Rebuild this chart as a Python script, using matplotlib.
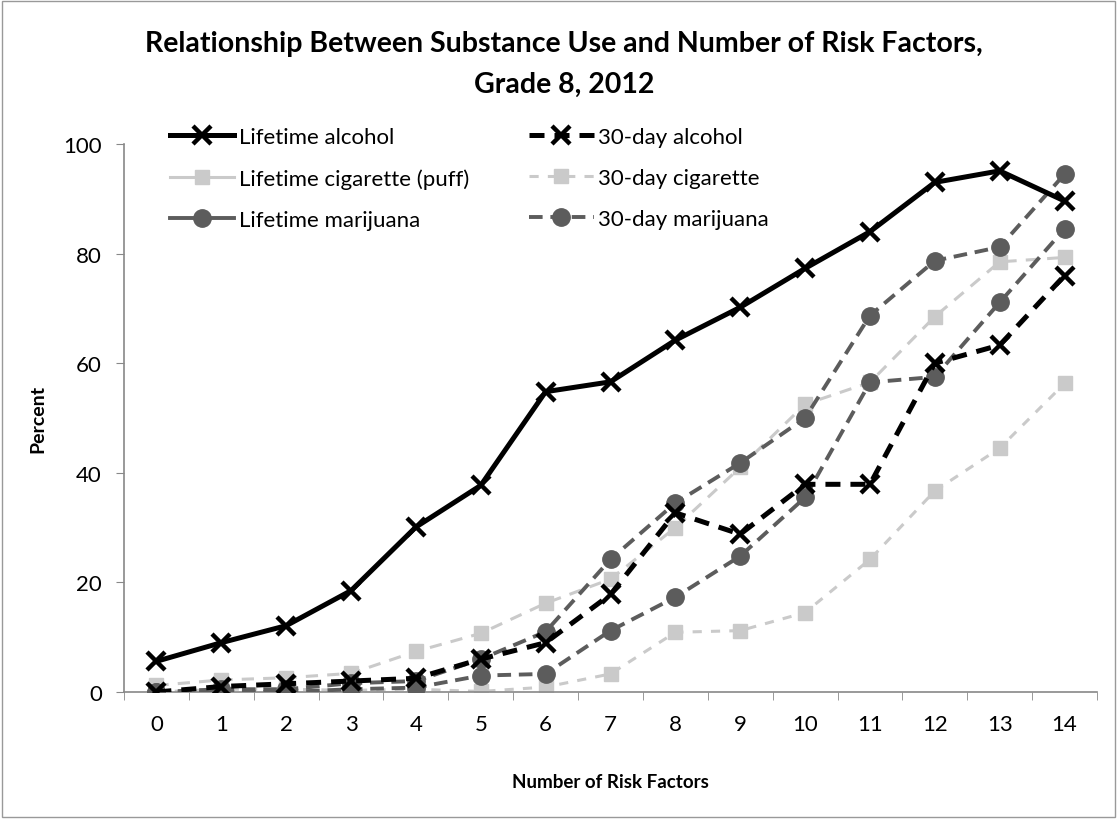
import matplotlib
matplotlib.use("Agg")
import matplotlib.pyplot as plt
from matplotlib.lines import Line2D
from matplotlib.patches import Rectangle

plt.rcParams['font.family'] = ['Lato', 'DejaVu Sans']

risk_factors = list(range(15))
tick_labels = [str(k) for k in risk_factors]

lifetime_alcohol = [5.6, 9.0, 12.1, 18.5, 30.1, 37.7, 54.8, 56.6, 64.2, 70.2, 77.3, 84.0, 93.0, 95.1, 89.6]
day30_alcohol = [0.0, 1.0, 1.5, 2.0, 2.5, 6.0, 9.0, 17.8, 32.7, 28.8, 37.9, 37.9, 60.0, 63.3, 76.0]
lifetime_cigarette = [1.2, 2.2, 2.6, 3.4, 7.4, 10.7, 16.2, 20.6, 30.0, 41.0, 52.5, 56.5, 68.5, 78.5, 79.3]
day30_cigarette = [0.0, 0.5, 0.5, 0.3, 0.5, 0.1, 0.9, 3.3, 10.9, 11.2, 14.5, 24.2, 36.7, 44.5, 56.3]
lifetime_marijuana = [0.0, 0.5, 0.5, 1.6, 2.0, 6.0, 11.0, 24.2, 34.5, 41.8, 50.0, 68.7, 78.7, 81.2, 94.5]
day30_marijuana = [0.0, 0.0, 0.0, 0.5, 0.8, 3.0, 3.3, 11.2, 17.3, 24.8, 35.5, 56.5, 57.5, 71.1, 84.5]

series_labels = ["Lifetime alcohol", "Lifetime cigarette (puff)", "Lifetime marijuana",
                 "30-day alcohol", "30-day cigarette", "30-day marijuana"]

W, H = 1117, 820
fig = plt.figure(figsize=(W / 100, H / 100), dpi=100)
ax = fig.add_axes([124 / W, 1 - 693 / H, (1097 - 124) / W, (693 - 145) / H])

dark = "#5c5c5c"
light = "#cacaca"

ax.plot(risk_factors, lifetime_cigarette, color=light, lw=2.2, ls=(0, (4, 3)),
        marker='s', ms=10, mfc=light, mec=light, zorder=2)
ax.plot(risk_factors, day30_cigarette, color=light, lw=2.2, ls=(0, (3, 3)),
        marker='s', ms=10, mfc=light, mec=light, zorder=2)
ax.plot(risk_factors, lifetime_alcohol, color='black', lw=3.6, ls='-',
        marker='x', ms=13, mew=3.2, zorder=4)
ax.plot(risk_factors, day30_alcohol, color='black', lw=3.6, ls=(0, (3, 2)),
        marker='x', ms=13, mew=3.2, zorder=4)
ax.plot(risk_factors, lifetime_marijuana, color=dark, lw=2.8, ls=(0, (3.5, 2)),
        marker='o', ms=12.5, mfc=dark, mec=dark, zorder=3)
ax.plot(risk_factors, day30_marijuana, color=dark, lw=2.8, ls=(0, (3.5, 2)),
        marker='o', ms=12.5, mfc=dark, mec=dark, zorder=3)

ax.set_xlim(-0.5, 14.5)
ax.set_ylim(0, 100)
ax.set_yticks([0, 20, 40, 60, 80, 100])
ax.set_xticks(risk_factors)
ax.set_xticklabels(tick_labels)
ax.set_xticks([k - 0.5 for k in risk_factors] + [14.5], minor=True)
ax.tick_params(axis='x', which='major', length=0, pad=16, labelsize=16)
ax.tick_params(axis='x', which='minor', length=6, direction='out', color='#888888')
ax.tick_params(axis='y', length=6, direction='out', color='#888888', labelsize=16, pad=10)
for s in ['top', 'right']:
    ax.spines[s].set_visible(False)
for s in ['left', 'bottom']:
    ax.spines[s].set_color('#888888')
    ax.spines[s].set_linewidth(1.2)

ax.set_ylabel("Percent", fontsize=14, fontweight='bold', labelpad=12)
ax.set_xlabel("Number of Risk Factors", fontsize=13.5, fontweight='bold', labelpad=28)

fig.text(0.505, 0.946, "Relationship Between Substance Use and Number of Risk Factors,",
         ha='center', va='center', fontsize=20.5, fontweight='bold')
fig.text(0.505, 0.897, "Grade 8, 2012", ha='center', va='center', fontsize=20.5, fontweight='bold')

handles = [
    Line2D([], [], color='black', lw=3.6, marker='x', ms=13, mew=3.2),
    Line2D([], [], color=light, lw=2.2, marker='s', ms=10, mfc=light, mec=light),
    Line2D([], [], color=dark, lw=2.8, marker='o', ms=12.5, mfc=dark, mec=dark),
    Line2D([], [], color='black', lw=3.6, ls=(0, (3, 2)), marker='x', ms=13, mew=3.2),
    Line2D([], [], color=light, lw=2.2, ls=(0, (3, 3)), marker='s', ms=10, mfc=light, mec=light),
    Line2D([], [], color=dark, lw=2.8, ls=(0, (3.5, 2)), marker='o', ms=12.5, mfc=dark, mec=dark),
]
fig.legend(handles, series_labels, ncol=2, loc='upper left',
           bbox_to_anchor=(150 / W, 1 - 108 / H), frameon=False, fontsize=16,
           handlelength=2.9, handletextpad=0.2, columnspacing=2.7, labelspacing=0.95)

fig.add_artist(Rectangle((0.002, 0.002), 0.996, 0.996, transform=fig.transFigure,
                         fill=False, edgecolor='#999999', lw=1))

fig.savefig("out.png", dpi=100)
